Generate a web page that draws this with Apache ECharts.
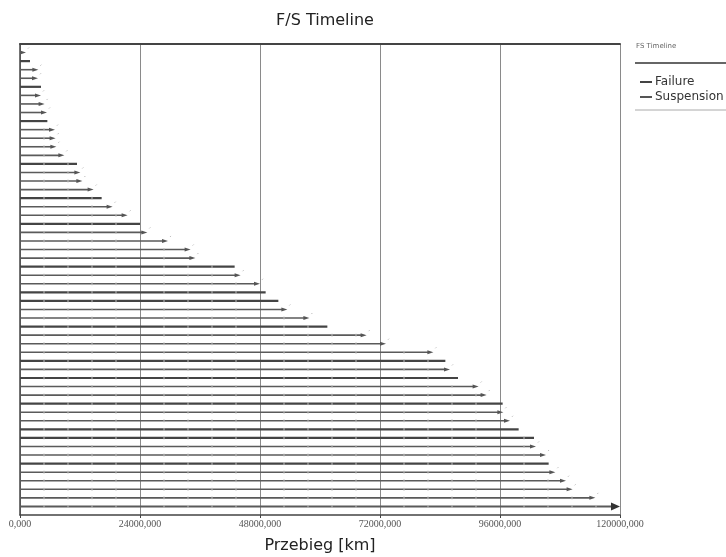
<!DOCTYPE html>
<html>
<head>
<meta charset="utf-8">
<script src="https://cdn.jsdelivr.net/npm/echarts@6/dist/echarts.min.js"></script>
<style>html,body{margin:0;padding:0;background:#fff;overflow:hidden;}#c{width:726px;height:557px;}</style>
</head>
<body>
<div id="c"></div>
<script>
// Row end values (km), top to bottom
const values = [1200, 2000, 3670, 3600, 4200, 4200, 4930, 5400, 5470, 7000,
  7130, 7270, 8870, 11400, 12070, 12470, 14730, 16330, 18530, 21530,
  24000, 25470, 29600, 34130, 35070, 42930, 44130, 48000, 49130, 51670,
  53470, 57870, 61470, 69330, 73200, 82670, 85070, 86000, 87600, 91730,
  93330, 96530, 96670, 98000, 99730, 102800, 103200, 105200, 105730, 107070,
  109200, 110530, 115070];
// F = failure, S = suspension
const types = ['S','F','S','S','F','S','S','S','F','S',
  'S','S','S','F','S','S','S','F','S','S',
  'F','S','S','S','S','F','S','S','F','F',
  'S','S','F','S','S','S','F','S','F','S',
  'S','F','S','S','F','F','S','S','F','S',
  'S','S','S'];
const timelineEnd = [120000];
const xTicks = [0, 24000, 48000, 72000, 96000, 120000];

const nRows = values.length + 1;
const failureData = [], suspData = [];
values.forEach((v, i) => {
  const row = nRows - i;
  (types[i] === 'F' ? failureData : suspData).push([v, row]);
});
const timelineData = timelineEnd.map(v => [v, 1]);

function makeRender(kind) {
  return function (params, api) {
    const v = api.value(0), r = api.value(1);
    const s = api.coord([0, r]), e = api.coord([v, r]);
    const children = [];
    const big = kind === 'T';
    const arrow = kind !== 'F';
    const alen = big ? 9 : 6, ah = big ? 4 : 2;
    children.push({
      type: 'line',
      shape: { x1: s[0], y1: s[1], x2: arrow ? e[0] - alen + 1 : e[0], y2: e[1] },
      style: { stroke: kind === 'F' ? '#444' : '#5a5a5a', lineWidth: kind === 'F' ? 2.2 : (big ? 2 : 1.6) }
    });
    for (let k = 4800; k < v - 1500; k += 4800) {
      if (k % 24000 === 0) continue;
      const p = api.coord([k, r]);
      children.push({ type: 'line', shape: { x1: p[0], y1: p[1] - 1.5, x2: p[0], y2: p[1] + 1.5 },
        style: { stroke: '#bbb', lineWidth: 1 } });
    }
    if (arrow) {
      children.push({
        type: 'polygon',
        shape: { points: [[e[0] - alen, e[1] - ah], [e[0], e[1]], [e[0] - alen, e[1] + ah]] },
        style: { fill: big ? '#333' : '#555' }
      });
      if (!big) {
        children.push({ type: 'line', shape: { x1: e[0] + 2, y1: e[1] - 4, x2: e[0] + 3, y2: e[1] - 5 },
          style: { stroke: '#bbb', lineWidth: 1 } });
      }
    }
    return { type: 'group', children: children };
  };
}

const chart = echarts.init(document.getElementById('c'));
chart.setOption({
  animation: false,
  backgroundColor: '#fff',
  title: {
    text: 'F/S Timeline', left: 320, top: 8, textAlign: 'center',
    textStyle: { fontFamily: 'DejaVu Sans', fontSize: 16, fontWeight: 'normal', color: '#222' }
  },
  grid: { left: 20, width: 600, top: 44, height: 471, containLabel: false, outerBoundsMode: 'none' },
  legend: {
    data: ['Failure', 'Suspension'], orient: 'vertical', left: 635, top: 71,
    icon: 'rect', itemWidth: 12, itemHeight: 2, itemGap: 3,
    textStyle: { fontFamily: 'DejaVu Sans', fontSize: 12, color: '#333', padding: [0, 0, 0, -2] }
  },
  graphic: [
    { type: 'text', left: 636, top: 43, style: { text: 'FS Timeline', fontSize: 7, fill: '#666', fontFamily: 'DejaVu Sans' } },
    { type: 'line', shape: { x1: 635, y1: 63, x2: 726, y2: 63 }, style: { stroke: '#333', lineWidth: 1.5 } },
    { type: 'line', shape: { x1: 635, y1: 110, x2: 726, y2: 110 }, style: { stroke: '#aaa', lineWidth: 1 } }
  ],
  xAxis: [{
    type: 'value', min: xTicks[0], max: xTicks[xTicks.length - 1], interval: xTicks[1] - xTicks[0],
    name: 'Przebieg [km]', nameLocation: 'middle', nameGap: 23,
    nameTextStyle: { fontFamily: 'DejaVu Sans', fontSize: 16, color: '#222' },
    axisLine: { show: true, lineStyle: { color: '#444', width: 1.5 } },
    axisTick: { show: true, length: 3, lineStyle: { color: '#444' } },
    axisLabel: { fontFamily: 'Liberation Serif', fontSize: 10, color: '#555', margin: 4,
      formatter: v => v + ',000' },
    splitLine: { show: true, lineStyle: { color: '#8a8a8a', width: 1 } }
  }, {
    type: 'value', position: 'top', min: 0, max: 120000,
    axisLine: { show: true, lineStyle: { color: '#444', width: 2 } },
    axisTick: { show: false }, axisLabel: { show: false }, splitLine: { show: false }
  }],
  yAxis: {
    type: 'value', min: 0, max: nRows + 1,
    axisLine: { show: true, lineStyle: { color: '#444', width: 1.5 } },
    axisTick: { show: false }, axisLabel: { show: false }, splitLine: { show: false }
  },
  series: [
    { name: 'Failure', type: 'custom', renderItem: makeRender('F'), data: failureData, itemStyle: { color: '#444' } },
    { name: 'Suspension', type: 'custom', renderItem: makeRender('S'), data: suspData, itemStyle: { color: '#555' } },
    { name: 'Timeline', type: 'custom', renderItem: makeRender('T'), data: timelineData, itemStyle: { color: '#333' } }
  ]
});
</script>
</body>
</html>
